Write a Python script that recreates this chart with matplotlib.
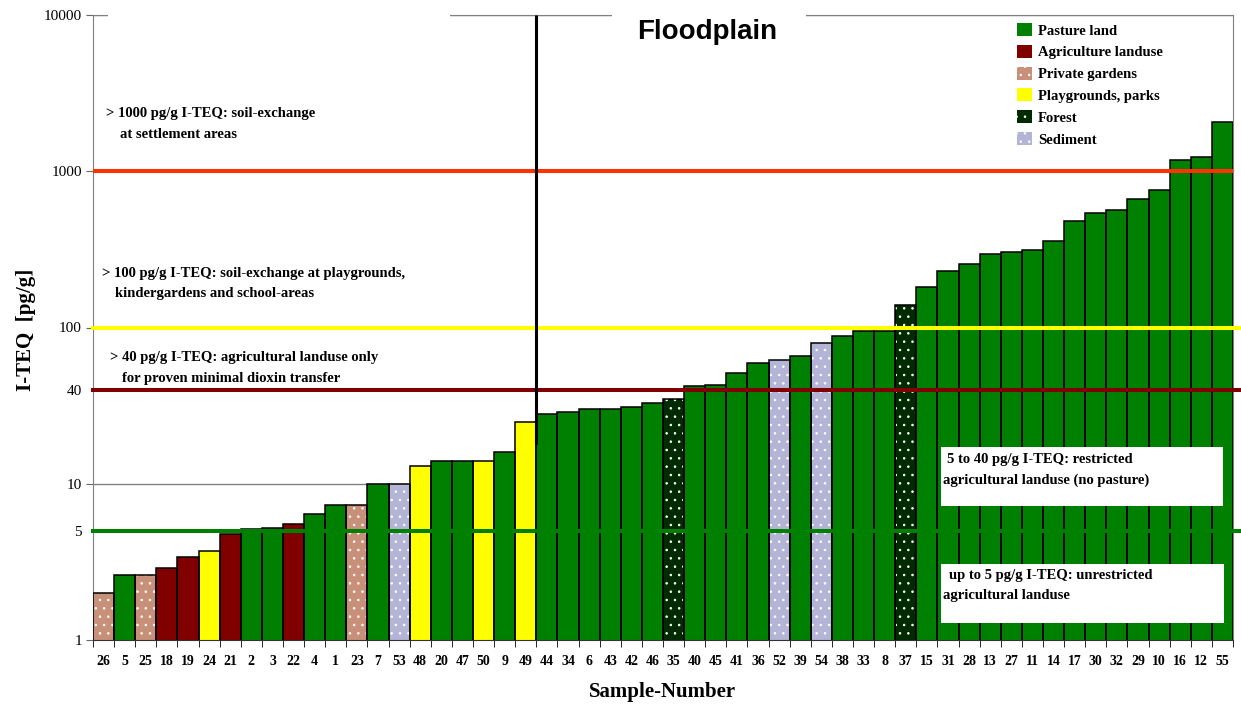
import numpy as np
import matplotlib
matplotlib.use("Agg")
import matplotlib.pyplot as plt
from matplotlib.patches import Patch, Rectangle

plt.rcParams['font.family'] = ['Liberation Serif', 'DejaVu Serif']
plt.rcParams['hatch.linewidth'] = 0.6

# sample numbers in plotting order and their I-TEQ content (pg/g)
samples = [26, 5, 25, 18, 19, 24, 21, 2, 3, 22, 4, 1, 23, 7, 53, 48, 20, 47, 50, 9, 49,
           44, 34, 6, 43, 42, 46, 35, 40, 45, 41, 36, 52, 39, 54, 38, 33, 8, 37, 15,
           31, 28, 13, 27, 11, 14, 17, 30, 32, 29, 10, 16, 12, 55]
teq = [2.0, 2.6, 2.6, 2.9, 3.4, 3.7, 4.8, 5.1, 5.2, 5.5, 6.4, 7.3, 7.3, 10, 10, 13, 14, 14, 14, 16, 25,
       28, 29, 30, 30, 31, 33, 35, 42, 43, 51, 59, 62, 66, 79, 88, 95, 95, 139, 181,
       230, 256, 294, 303, 312, 358, 482, 538, 568, 660, 764, 1183, 1233, 2070]
landuse = ['garden', 'pasture', 'garden', 'agri', 'agri', 'play', 'agri', 'pasture', 'pasture', 'agri',
           'pasture', 'pasture', 'garden', 'pasture', 'sediment', 'play', 'pasture', 'pasture', 'play',
           'pasture', 'play',
           'pasture', 'pasture', 'pasture', 'pasture', 'pasture', 'pasture', 'forest', 'pasture',
           'pasture', 'pasture', 'pasture', 'sediment', 'pasture', 'sediment', 'pasture', 'pasture',
           'pasture', 'forest', 'pasture', 'pasture', 'pasture', 'pasture', 'pasture', 'pasture',
           'pasture', 'pasture', 'pasture', 'pasture', 'pasture', 'pasture', 'pasture', 'pasture',
           'pasture']
n_left = 21  # samples left of the separator

categories = ['pasture', 'agri', 'garden', 'play', 'forest', 'sediment']
cat_names = ['Pasture land', 'Agriculture landuse', 'Private gardens',
             'Playgrounds, parks', 'Forest', 'Sediment']
cat_colors = {'pasture': '#008000', 'agri': '#800000', 'garden': '#C99079',
              'play': '#FFFF00', 'forest': '#002A00', 'sediment': '#B4B4D6'}
cat_hatch = {'garden': '..', 'forest': '..', 'sediment': '..'}

thresholds = [1000, 100, 40, 5]
thr_colors = ['#FF3300', '#FFFF00', '#800000', '#008000']

W, H = 1241, 704


def fx(x):
    return x / W


def fy(y):
    return 1 - y / H


fig = plt.figure(figsize=(W / 100, H / 100), dpi=100)
ax = fig.add_axes([fx(93), fy(640), 1140 / W, 625 / H])

x = np.arange(len(samples))
cols = [cat_colors[c] for c in landuse]

ax.bar(x, teq, width=1.0, color=cols, linewidth=0, zorder=2)
hx = [i for i, c in enumerate(landuse) if c in cat_hatch]
ax.bar(hx, [teq[i] for i in hx], width=1.0, fill=False, edgecolor='white',
       linewidth=0, hatch='..', zorder=2.1)
ax.bar(x, teq, width=1.0, fill=False, edgecolor='black', linewidth=1.1, zorder=3)

# threshold lines on top of the bars
ax.axhline(thresholds[0], color=thr_colors[0], lw=2.9, zorder=4)
for v, c in zip(thresholds[1:], thr_colors[1:]):
    ax.axhline(v, color=c, lw=2.9, xmax=1.007, clip_on=False, zorder=4)

ax.vlines(n_left - 0.5, 18, 10000, color='black', lw=2.2, zorder=5)

ax.set_yscale('log')
ax.set_ylim(1, 10000)
ax.set_xlim(-0.5, len(samples) - 0.5)

yt = [1, 5, 10, 40, 100, 1000, 10000]
ax.set_yticks(yt)
ax.set_yticklabels([str(v) for v in yt], fontsize=11)
ax.yaxis.set_minor_locator(matplotlib.ticker.NullLocator())
ax.tick_params(axis='y', length=5, color='#666666', pad=3)
for i, v in enumerate(yt):
    if v in (5, 40):
        ax.yaxis.get_major_ticks()[i].tick1line.set_visible(False)
ax.yaxis.grid(True, color='#808080', lw=1)
ax.set_axisbelow(True)

ax.set_xticks(x)
ax.set_xticklabels([str(s) for s in samples], fontsize=10, fontweight='bold')
ax.set_xticks(np.arange(len(samples) + 1) - 0.5, minor=True)
ax.tick_params(axis='x', which='major', length=0, pad=11)
ax.tick_params(axis='x', which='minor', length=5, color='black')

for s in ['top', 'right', 'left']:
    ax.spines[s].set_color('#808080')
ax.spines['bottom'].set_color('#333333')

ax.set_ylabel('I-TEQ  [pg/g]', fontsize=15, fontweight='bold')
ax.yaxis.set_label_coords(-0.05, (640 - 330) / 625)
ax.set_xlabel('Sample-Number', fontsize=15, fontweight='bold')
ax.xaxis.set_label_coords(0.5, -0.068)

# white text boxes sitting on the plot frame
for x0, x1, y0, y1 in [(108, 450, 8, 22), (612, 806, 8, 46)]:
    fig.add_artist(Rectangle((fx(x0), fy(y1)), (x1 - x0) / W, (y1 - y0) / H,
                             transform=fig.transFigure, facecolor='white',
                             edgecolor='none', zorder=5))
fig.text(fx(707), fy(32), 'Floodplain', family='Liberation Sans', fontweight='bold',
         fontsize=20, ha='center', va='center', zorder=6)

for x0, x1, y0, y1 in [(941, 1223, 447, 506), (941, 1224, 564, 623)]:
    fig.add_artist(Rectangle((fx(x0), fy(y1)), (x1 - x0) / W, (y1 - y0) / H,
                             transform=fig.transFigure, facecolor='white',
                             edgecolor='none', zorder=5))

notes = [
    (106, 114, '> 1000 pg/g I-TEQ: soil-exchange'),
    (120, 135, 'at settlement areas'),
    (102, 274, '> 100 pg/g I-TEQ: soil-exchange at playgrounds,'),
    (115, 294, 'kindergardens and school-areas'),
    (110, 357, '> 40 pg/g I-TEQ: agricultural landuse only'),
    (122, 378, 'for proven minimal dioxin transfer'),
    (947, 459, '5 to 40 pg/g I-TEQ: restricted'),
    (943, 480, 'agricultural landuse (no pasture)'),
    (949, 575, 'up to 5 pg/g I-TEQ: unrestricted'),
    (943, 596, 'agricultural landuse'),
]
for nx, ny, t in notes:
    fig.text(fx(nx), fy(ny), t, fontsize=10.5, fontweight='bold', ha='left',
             va='center', zorder=6)

handles = [Patch(facecolor=cat_colors[c], hatch=cat_hatch.get(c), edgecolor='white',
                 linewidth=0, label=nm) for c, nm in zip(categories, cat_names)]
fig.legend(handles=handles, loc='upper left', bbox_to_anchor=(fx(1017), fy(23)),
           frameon=False, prop={'size': 10.5, 'weight': 'bold'},
           handlelength=1.0, handleheight=1.0, handletextpad=0.45,
           labelspacing=0.5, borderpad=0, borderaxespad=0)

fig.savefig('out.png', dpi=100)
